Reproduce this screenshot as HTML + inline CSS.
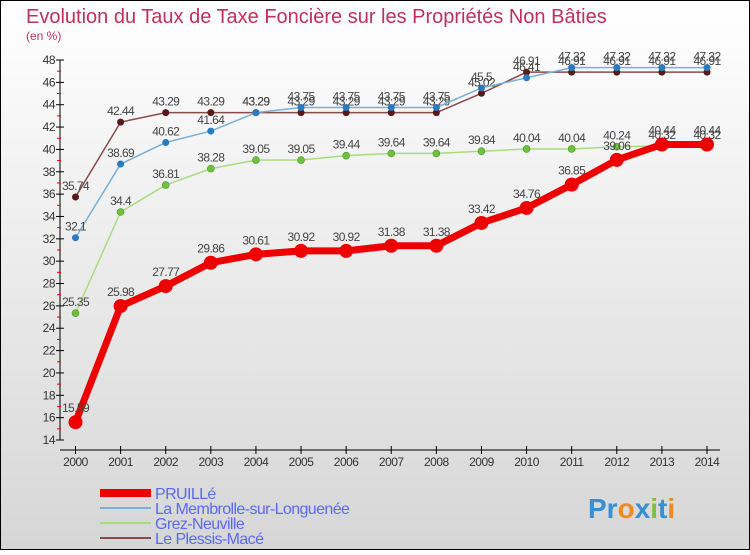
<!DOCTYPE html>
<html><head><meta charset="utf-8"><style>
body{margin:0;}
svg text{font-family:"Liberation Sans",sans-serif;}
</style></head><body>
<svg id="c" width="750" height="550" xmlns="http://www.w3.org/2000/svg">
<defs><linearGradient id="bg" x1="0" y1="0" x2="0" y2="1"><stop offset="0" stop-color="#ffffff"/><stop offset="1" stop-color="#d6d6d6"/></linearGradient></defs>
<rect x="0.5" y="0.5" width="749" height="549" fill="url(#bg)" stroke="#000"/>
<text x="26" y="23" font-size="20" fill="#c0305a">Evolution du Taux de Taxe Foncière sur les Propriétés Non Bâties</text>
<text x="26" y="40" font-size="12" fill="#c0305a">(en %)</text>
<g id="axes"></g><g id="series"></g><g id="legend"></g>
<text x="588" y="518" font-size="28" font-weight="bold" fill="#3a8fd0">Pr<tspan fill="#f08a20">o</tspan>x<tspan fill="#80c040">i</tspan>t<tspan fill="#f08a20">i</tspan></text>
</svg>
<script>
const years=[2000,2001,2002,2003,2004,2005,2006,2007,2008,2009,2010,2011,2012,2013,2014];
const yTicks=[14,16,18,20,22,24,26,28,30,32,34,36,38,40,42,44,46,48];
const pruille=[15.59,25.98,27.77,29.86,30.61,30.92,30.92,31.38,31.38,33.42,34.76,36.85,39.06,40.44,40.44];
const membrolle=[32.1,38.69,40.62,41.64,43.29,43.75,43.75,43.75,43.75,45.5,46.41,47.32,47.32,47.32,47.32];
const grez=[25.35,34.4,36.81,38.28,39.05,39.05,39.44,39.64,39.64,39.84,40.04,40.04,40.24,40.32,40.32];
const plessis=[35.74,42.44,43.29,43.29,43.29,43.29,43.29,43.29,43.29,45.02,46.91,46.91,46.91,46.91,46.91];
const seriesNames=["PRUILLé","La Membrolle-sur-Longuenée","Grez-Neuville","Le Plessis-Macé"];
const NS="http://www.w3.org/2000/svg";
function X(i){return 75.5+i*(707-75.5)/14;}
function Y(v){return 440-(v-14)*(380/34);}
function mk(tag,attrs,parent,txt){const e=document.createElementNS(NS,tag);for(const k in attrs)e.setAttribute(k,attrs[k]);if(txt!==undefined)e.textContent=txt;parent.appendChild(e);return e;}
const ax=document.getElementById('axes');
let l=mk('line',{x1:60,y1:Y(48),x2:60,y2:Y(14),stroke:'#000'},ax);


l=mk('line',{x1:60,y1:450,x2:720,y2:450,stroke:'#000'},ax);


yTicks.forEach((v,i)=>{
 mk('line',{x1:56,y1:Y(v),x2:64,y2:Y(v),stroke:'#000'},ax);
 if(i<yTicks.length-1) mk('line',{x1:57,y1:Y(v+1),x2:61,y2:Y(v+1),stroke:'#e00'},ax);
 const t=mk('text',{x:55,y:Y(v)+4,'font-size':12,'text-anchor':'end',fill:'#333','letter-spacing':'-0.5'},ax,v);
 
 
});
years.forEach((yr,i)=>{
 mk('line',{x1:X(i),y1:446,x2:X(i),y2:454,stroke:'#000'},ax);
 const t=mk('text',{x:X(i),y:466,'font-size':12,'text-anchor':'middle',fill:'#333','letter-spacing':'-0.5'},ax,yr);
 
 
});
const sg=document.getElementById('series');
const defs=[[plessis,'#8a4a4a','#5a1818',1.5,3.5,'plessis'],[membrolle,'#7ab0d8','#2a7ac0',1.5,3.5,'membrolle'],[grez,'#a8dc80','#70c040',1.5,3.5,'grez'],[pruille,'#ee0000','#ee0000',7,7,'pruille']];
defs.forEach(([d,lc,pc,w,r,n])=>{
 const g=mk('g',{},sg);
 
 
 const p=mk('polyline',{points:d.map((v,i)=>X(i)+','+Y(v)).join(' '),fill:'none',stroke:lc,'stroke-width':w,'stroke-linejoin':'round'},g);
 
 
 d.forEach((v,i)=>{
  const c=mk('circle',{cx:X(i),cy:Y(v),r:r,fill:pc,stroke:n==='grez'?'#4a9a20':'none','stroke-width':0.6},g);
  
  
  const t=mk('text',{x:X(i),y:Y(v)-(n==='pruille'?10:7),'font-size':12,'text-anchor':'middle',fill:'#444','letter-spacing':'-0.6'},g,String(v));
  
  
 });
});
const lg=document.getElementById('legend');
const lcols=['#ee0000','#7ab0d8','#a8dc80','#8a4a4a'];
const lw=[8,2,2,2];
seriesNames.forEach((s,i)=>{
 const y=493+i*15;
 const g=mk('g',{},lg);
 
 
 mk('line',{x1:100,y1:y,x2:151,y2:y,stroke:lcols[i],'stroke-width':lw[i]},g);
 mk('text',{x:155,y:y+6,'font-size':16,fill:'#5a6af0','letter-spacing':'-0.6'},g,s);
});
</script>
</body></html>
